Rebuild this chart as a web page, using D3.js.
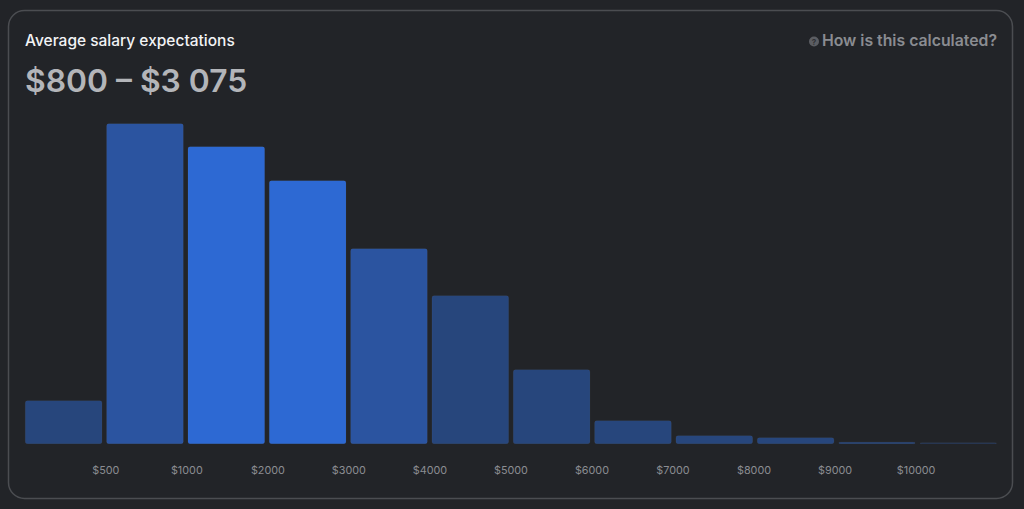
<!DOCTYPE html>
<html>
<head>
<meta charset="utf-8">
<script src="https://cdn.jsdelivr.net/npm/d3@7"></script>
<style>
  html, body { margin: 0; padding: 0; background: #222428; }
  svg { display: block; }
</style>
</head>
<body>
<svg id="chart" width="1024" height="509"></svg>
<script>
// ---- data ----
const bins = ["0-500", "500-1000", "1000-2000", "2000-3000", "3000-4000", "4000-5000",
              "5000-6000", "6000-7000", "7000-8000", "8000-9000", "9000-10000", "10000+"];
const counts = [43, 320, 297, 263, 195, 148, 74, 23, 8, 6, 1.5, 1];
const shades = ["dark", "mid", "bright", "bright", "mid", "dark",
                "dark", "dark", "dark", "dark", "dark", "faint"];
const tickLabels = ["$500", "$1000", "$2000", "$3000", "$4000", "$5000",
                    "$6000", "$7000", "$8000", "$9000", "$10000"];
const title = "Average salary expectations";
const rangeText = "$800 – $3 075";
const helpText = "How is this calculated?";

const palette = { dark: "#27467c", mid: "#2b54a0", bright: "#2d69d3", faint: "#22355a" };

const svg = d3.select("#chart");
const font = "Inter, 'Noto Sans', sans-serif";

// card
svg.append("rect")
  .attr("x", 8.5).attr("y", 10.5).attr("width", 1004).attr("height", 488)
  .attr("rx", 16).attr("ry", 16)
  .attr("fill", "#222428").attr("stroke", "#4b4d51").attr("stroke-width", 1.5);

// header
svg.append("text").attr("x", 25).attr("y", 46)
  .attr("font-family", font).attr("font-size", 15.5).attr("font-weight", 500)
  .attr("fill", "#f2f3f5").text(title);

svg.append("text").attr("x", 25).attr("y", 92)
  .attr("font-family", font).attr("font-size", 31.8).attr("font-weight", 600)
  .attr("fill", "#b3b5b9").text(rangeText);

svg.append("text").attr("x", 997).attr("y", 46).attr("text-anchor", "end")
  .attr("font-family", font).attr("font-size", 15.8).attr("font-weight", 600)
  .attr("fill", "#8a8c91").text(helpText);

svg.append("circle").attr("cx", 814).attr("cy", 41.5).attr("r", 5)
  .attr("fill", "#5b5d62");
svg.append("text").attr("x", 814).attr("y", 44.5).attr("text-anchor", "middle")
  .attr("font-family", font).attr("font-size", 8).attr("font-weight", 700)
  .attr("fill", "#2e3034").text("?");

// scales
const x = d3.scaleBand().domain(bins).range([25.3, 996.6]).paddingInner(0.0574).paddingOuter(0);
const y = d3.scaleLinear().domain([0, 320]).range([443.7, 123.7]);

// bars
svg.append("g").selectAll("rect")
  .data(bins)
  .join("rect")
  .attr("x", d => x(d))
  .attr("width", x.bandwidth())
  .attr("y", (d, i) => y(counts[i]))
  .attr("height", (d, i) => y(0) - y(counts[i]))
  .attr("rx", 2).attr("ry", 2)
  .attr("fill", (d, i) => palette[shades[i]])
  .attr("stroke", "rgba(255,255,255,0.05)")
  .attr("stroke-width", 0.8);

// tick labels at boundaries between bars
const gap = x.step() - x.bandwidth();
svg.append("g").selectAll("text")
  .data(tickLabels)
  .join("text")
  .attr("x", (d, i) => x(bins[i]) + x.bandwidth() + gap / 2 + 1.5 - i * 0.3)
  .attr("y", 474)
  .attr("text-anchor", "middle")
  .attr("font-family", font).attr("font-size", 10.8)
  .attr("fill", "#8b8d92")
  .text(d => d);
</script>
</body>
</html>
